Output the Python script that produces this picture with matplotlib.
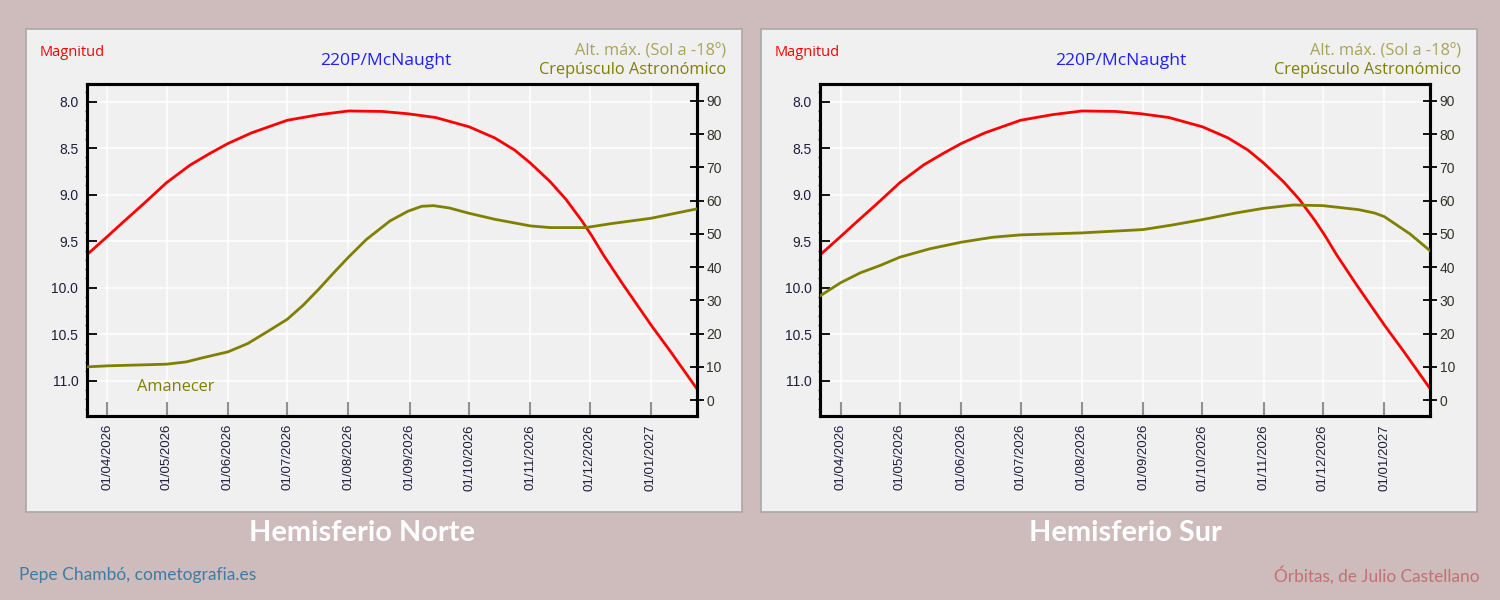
import matplotlib
matplotlib.use("Agg")
import matplotlib.pyplot as plt
import matplotlib.dates as mdates
from matplotlib.patches import Rectangle
from matplotlib.ticker import MultipleLocator
import datetime as dt

# ---------------- data ----------------
mag_dates = ["2026-03-22", "2026-04-01", "2026-04-09", "2026-04-19", "2026-05-01",
             "2026-05-13", "2026-05-23", "2026-06-01", "2026-06-13", "2026-07-01",
             "2026-07-17", "2026-08-01", "2026-08-18", "2026-08-31", "2026-09-14",
             "2026-10-01", "2026-10-14", "2026-10-24", "2026-11-01", "2026-11-11",
             "2026-11-19", "2026-11-27", "2026-12-02", "2026-12-08", "2026-12-18",
             "2027-01-01", "2027-01-11", "2027-01-24"]
magnitude = [9.64, 9.45, 9.295, 9.105, 8.87,
             8.68, 8.555, 8.45, 8.335, 8.20,
             8.14, 8.10, 8.105, 8.13, 8.17,
             8.27, 8.39, 8.52, 8.66, 8.86,
             9.05, 9.28, 9.44, 9.65, 9.97,
             10.40, 10.69, 11.08]

north_dates = ["2026-03-22", "2026-04-01", "2026-04-13", "2026-05-01", "2026-05-11",
               "2026-05-19", "2026-06-01", "2026-06-11", "2026-06-21", "2026-07-01",
               "2026-07-09", "2026-07-17", "2026-07-25", "2026-08-01", "2026-08-10",
               "2026-08-22", "2026-08-31", "2026-09-07", "2026-09-13", "2026-09-21",
               "2026-10-01", "2026-10-14", "2026-11-01", "2026-11-11", "2026-11-29",
               "2026-12-12", "2027-01-01", "2027-01-24"]
north_alt = [10.0, 10.3, 10.5, 10.8, 11.5,
             12.7, 14.5, 17.0, 20.6, 24.3,
             28.5, 33.4, 38.6, 43.0, 48.3,
             53.9, 56.8, 58.3, 58.5, 57.8,
             56.2, 54.4, 52.4, 51.9, 51.9,
             53.1, 54.7, 57.5]

south_dates = ["2026-03-22", "2026-04-01", "2026-04-11", "2026-04-21", "2026-05-01",
               "2026-05-16", "2026-06-01", "2026-06-17", "2026-07-01", "2026-08-01",
               "2026-09-01", "2026-09-16", "2026-10-01", "2026-10-18", "2026-11-01",
               "2026-11-16", "2026-12-01", "2026-12-19", "2026-12-27", "2027-01-01",
               "2027-01-14", "2027-01-24"]
south_alt = [31.5, 35.3, 38.3, 40.5, 43.0,
             45.5, 47.5, 49.0, 49.7, 50.3,
             51.3, 52.7, 54.3, 56.3, 57.7,
             58.7, 58.5, 57.3, 56.3, 55.2,
             50.0, 45.0]

month_ticks = ["2026-04-01", "2026-05-01", "2026-06-01", "2026-07-01", "2026-08-01",
               "2026-09-01", "2026-10-01", "2026-11-01", "2026-12-01", "2027-01-01"]
mag_ticks = [8.0, 8.5, 9.0, 9.5, 10.0, 10.5, 11.0]
alt_ticks = [0, 10, 20, 30, 40, 50, 60, 70, 80, 90]

comet = "220P/McNaught"
panel_titles = ["Hemisferio Norte", "Hemisferio Sur"]

def to_dates(lst):
    return [dt.datetime.strptime(s, "%Y-%m-%d") for s in lst]

# ---------------- figure ----------------
W, H = 1500, 600
fig = plt.figure(figsize=(15, 6), dpi=100)
fig.patch.set_facecolor("#CEBBBB")

def fx(px):
    return px / W

def fy(py):
    return 1 - py / H

RED = "#FF0000"
OLIVE = "#808000"
TICKC = "#1E1E3C"

panels = [
    dict(px=26, ax_left=86.7, alt=north_alt, alt_dates=north_dates, amanecer=True,
         title=panel_titles[0], tx=362),
    dict(px=761, ax_left=820.0, alt=south_alt, alt_dates=south_dates, amanecer=False,
         title=panel_titles[1], tx=1125),
]

xmin = dt.datetime(2026, 3, 21, 14)
xmax = dt.datetime(2027, 1, 24, 3)

for p in panels:
    rect = Rectangle((fx(p["px"]), fy(512)), fx(716), (512 - 29) / H,
                     transform=fig.transFigure, facecolor="#F0F0F0",
                     edgecolor="#A8A8A8", linewidth=1.2, zorder=-5)
    fig.patches.append(rect)
    ax = fig.add_axes([fx(p["ax_left"]), fy(415.7), fx(610), (415.7 - 84) / H])
    ax.set_zorder(1)
    ax.set_facecolor("#F0F0F0")
    ax.plot(to_dates(mag_dates), magnitude, color=RED, linewidth=2.0, zorder=3,
            solid_joinstyle="round")
    ax.set_ylim(11.376, 7.81)
    ax.set_xlim(xmin, xmax)
    ax.set_yticks(mag_ticks)
    ax.set_yticklabels([f"{v:.1f}" for v in mag_ticks])
    ax.yaxis.set_minor_locator(MultipleLocator(0.1))
    ax.set_xticks(to_dates(month_ticks))
    ax.xaxis.set_major_formatter(mdates.DateFormatter("%d/%m/%Y"))
    ax.grid(True, color="white", linewidth=1.1, zorder=1)
    ax.set_axisbelow(True)
    ax.tick_params(axis="y", which="major", direction="in", length=7, width=1.3,
                   color="black", labelsize=10, labelcolor=TICKC, pad=6)
    ax.tick_params(axis="y", which="minor", direction="out", length=1.5, width=1,
                   color="#555555")
    ax.tick_params(axis="x", which="major", direction="in", length=10, width=1.5,
                   color="#909090", labelsize=9.5, labelcolor=TICKC, pad=6,
                   labelrotation=90)
    for lab in ax.get_xticklabels() + ax.get_yticklabels():
        lab.set_fontfamily("Liberation Sans")
    for s in ax.spines.values():
        s.set_linewidth(2.2)
        s.set_color("black")

    ax2 = ax.twinx()
    ax2.set_zorder(2)
    ax2.plot(to_dates(p["alt_dates"]), p["alt"], color=OLIVE, linewidth=2.0, zorder=3,
             solid_joinstyle="round")
    ax2.set_ylim(-4.7, 95.1)
    ax2.set_yticks(alt_ticks)
    ax2.set_xlim(xmin, xmax)
    ax2.tick_params(axis="y", direction="inout", length=10, width=1.3, color="black",
                    labelsize=10, labelcolor="#33332A", pad=2)
    for lab in ax2.get_yticklabels():
        lab.set_fontfamily("Liberation Sans")
    for s in ax2.spines.values():
        s.set_linewidth(2.2)
        s.set_color("black")

    off = p["px"] - 26
    fig.text(fx(40 + off), fy(52), "Magnitud", color=RED, fontsize=10.5,
             family="Open Sans", ha="left", va="center")
    fig.text(fx(386 + off), fy(61), comet, color="#2020FF", fontsize=12.6,
             family="Open Sans", ha="center", va="center")
    fig.text(fx(726 + off), fy(52), "Alt. máx. (Sol a -18º)", color="#A8A458",
             fontsize=11.8, family="Open Sans", ha="right", va="center")
    fig.text(fx(726 + off), fy(70), "Crepúsculo Astronómico", color=OLIVE,
             fontsize=11.8, family="Open Sans", ha="right", va="center")
    if p["amanecer"]:
        fig.text(fx(137), fy(387), "Amanecer", color=OLIVE, fontsize=11.8,
                 family="Open Sans", ha="left", va="center")
    fig.text(fx(p["tx"]), fy(533), p["title"], color="white", fontsize=20.8,
             family="Lato", fontweight="bold", ha="center", va="center")

fig.text(fx(19), fy(575), "Pepe Chambó, cometografia.es", color="#3D7CA6",
         fontsize=12.5, family="Lato", ha="left", va="center")
fig.text(fx(1480), fy(575), "Órbitas, de Julio Castellano", color="#C27174",
         fontsize=12.4, family="Lato", ha="right", va="center")

fig.savefig("out.png", dpi=100, facecolor=fig.get_facecolor())
